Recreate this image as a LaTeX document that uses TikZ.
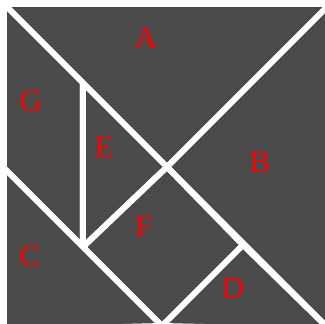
\documentclass[tikz,border=0pt]{standalone}
\usepackage{fontspec}
\setmainfont{Liberation Serif}
\usetikzlibrary{positioning}
\definecolor{piecegray}{RGB}{74,74,74}
\definecolor{labelred}{RGB}{255,0,0}

\begin{document}
\begin{tikzpicture}[x=1pt,y=-1pt,
  piece/.style={fill=piecegray,draw=white,line width=6pt,line join=miter},
  plabel/.style={text=labelred,font=\fontsize{31}{31}\selectfont,inner sep=0pt}]
\useasboundingbox (0,0) rectangle (325,324);
\fill[white] (0,0) rectangle (325,324);

% corners and inner points of the square
\coordinate (TL) at (4,4);
\coordinate (TR) at (330,4);
\coordinate (BR) at (330,330);
\coordinate (BL) at (4,330);
\coordinate (O) at (167,167);
\coordinate (Q1) at (83,83);
\coordinate (Q3) at (83,247);
\coordinate (ML) at (4,168);
\coordinate (MB) at (162,326);
\coordinate (R3) at (243,245);

% pieces
\draw[piece] (TL) -- (TR) -- (O) -- cycle;
\draw[piece] (TR) -- (BR) -- (O) -- cycle;
\draw[piece] (TL) -- (Q1) -- (Q3) -- (ML) -- cycle;
\draw[piece] (Q1) -- (O) -- (Q3) -- cycle;
\draw[piece] (Q3) -- (O) -- (R3) -- (MB) -- cycle;
\draw[piece] (ML) -- (MB) -- (BL) -- cycle;
\draw[piece] (MB) -- (R3) -- (BR) -- cycle;

% labels
\node[plabel] (A) at (146,38) {A};
\node[plabel] (B) at (260,162) {B};
\node[plabel] (G) at (31,101) {G};
\node[plabel] (E) at (104,147) {E};
\node[plabel] (F) at (144,226) {F};
\node[plabel] (C) at (30,256) {C};
\node[plabel] (D) at (233,288) {D};
\end{tikzpicture}
\end{document}
